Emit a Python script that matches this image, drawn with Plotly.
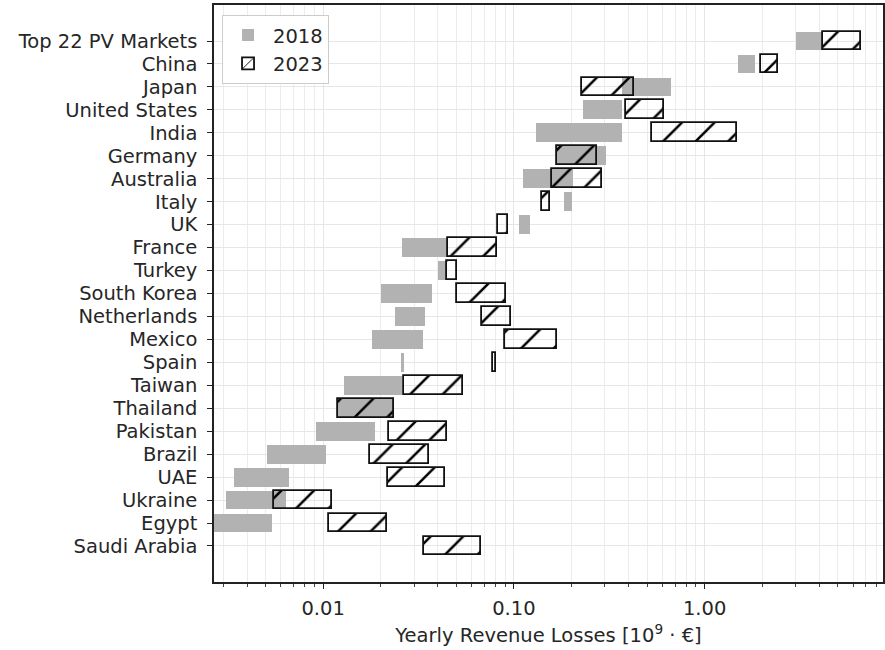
import plotly.graph_objects as go

countries = ["Top 22 PV Markets", "China", "Japan", "United States", "India", "Germany",
             "Australia", "Italy", "UK", "France", "Turkey", "South Korea", "Netherlands",
             "Mexico", "Spain", "Taiwan", "Thailand", "Pakistan", "Brazil", "UAE",
             "Ukraine", "Egypt", "Saudi Arabia"]

low_2018 = [3.0, 1.50, 0.370, 0.231, 0.130, 0.168, 0.1115, 0.183, 0.106, 0.0258, 0.040,
            0.0202, 0.0238, 0.0180, 0.0255, 0.0129, 0.0119, 0.0092, 0.0051, 0.0034,
            0.0031, 0.0025, None]
high_2018 = [4.19, 1.83, 0.663, 0.370, 0.370, 0.303, 0.205, 0.201, 0.121, 0.0453, 0.0448,
             0.0370, 0.034, 0.0335, 0.0265, 0.0258, 0.0235, 0.0186, 0.0103, 0.0066,
             0.0064, 0.0054, None]
low_2023 = [4.19, 1.98, 0.2285, 0.388, 0.527, 0.1675, 0.159, 0.141, 0.0828, 0.0453, 0.0448,
            0.0505, 0.0677, 0.0894, 0.0776, 0.0267, 0.0119, 0.0221, 0.0177, 0.0218,
            0.0055, 0.0108, 0.0337]
high_2023 = [6.63, 2.42, 0.426, 0.612, 1.48, 0.2716, 0.291, 0.1545, 0.093, 0.0818, 0.0505,
             0.0912, 0.0961, 0.169, 0.0809, 0.0543, 0.0235, 0.0448, 0.0358, 0.0434,
             0.0111, 0.0215, 0.0669]

major_ticks = [0.01, 0.1, 1.0]
major_labels = ["0.01", "0.10", "1.00"]


def span(lo, hi):
    return [None if (a is None or b is None) else b - a for a, b in zip(lo, hi)]


FONT = "DejaVu Sans"
TXT = "#262626"
FS = 19.5

fig = go.Figure()
fig.add_trace(go.Bar(
    name="2018", y=countries, x=span(low_2018, high_2018), base=low_2018,
    orientation="h", width=0.82,
    marker=dict(color="#b2b2b2", line=dict(width=0)),
))
fig.add_trace(go.Bar(
    name="2023", y=countries, x=span(low_2023, high_2023), base=low_2023,
    orientation="h", width=0.82,
    marker=dict(color="rgba(0,0,0,0)", line=dict(color="#111111", width=1.8),
                pattern=dict(shape="/", fgcolor="#000000", fgopacity=1,
                             bgcolor="rgba(0,0,0,0)", size=23, solidity=0.11)),
))

minor_vals = []
for dec in [0.001, 0.01, 0.1, 1.0]:
    for m in range(2, 10):
        minor_vals.append(round(m * dec, 6))

fig.update_layout(
    width=885, height=650,
    margin=dict(l=214, r=2, t=5, b=68),
    paper_bgcolor="white", plot_bgcolor="white",
    barmode="overlay", bargap=0,
    font=dict(family=FONT, size=FS, color=TXT),
    showlegend=True,
    legend=dict(x=0.012, y=0.983, xanchor="left", yanchor="top",
                bgcolor="white", bordercolor="#cccccc", borderwidth=1,
                font=dict(size=FS, family=FONT, color=TXT),
                itemwidth=40, tracegroupgap=4),
)
fig.update_xaxes(
    type="log", range=[-2.572, 0.935], automargin=False,
    tickmode="array", tickvals=major_ticks, ticktext=major_labels,
    ticks="outside", ticklen=5, tickwidth=1.2, tickcolor="#222",
    showgrid=True, gridcolor="#e6e6e6", gridwidth=1,
    minor=dict(tickvals=minor_vals, ticks="outside", ticklen=3, tickcolor="#444",
               showgrid=True, gridcolor="#ececec", gridwidth=1),
    showline=True, linecolor="#222", linewidth=1.5, mirror=True,
    zeroline=False,
    ticklabelstandoff=3,
    title=dict(text="Yearly Revenue Losses [10<sup>9</sup> · €]",
               font=dict(size=FS, family=FONT, color=TXT), standoff=9),
    tickfont=dict(size=FS, family=FONT, color=TXT),
)
fig.update_yaxes(
    type="category", categoryorder="array", categoryarray=countries,
    tickmode="array", tickvals=countries, ticktext=countries,
    range=[len(countries) - 1 + 1.57, -1.57], automargin=False,
    ticks="outside", ticklen=5, tickwidth=1.2, tickcolor="#222",
    showgrid=True, gridcolor="#e6e6e6", gridwidth=1,
    showline=True, linecolor="#222", linewidth=1.5, mirror=True,
    tickfont=dict(size=FS, family=FONT, color=TXT),
    ticklabelstandoff=6,
)

fig.write_html("out.html", config={"displayModeBar": False},
               post_script="document.body.style.margin='0';document.body.style.padding='0';")
